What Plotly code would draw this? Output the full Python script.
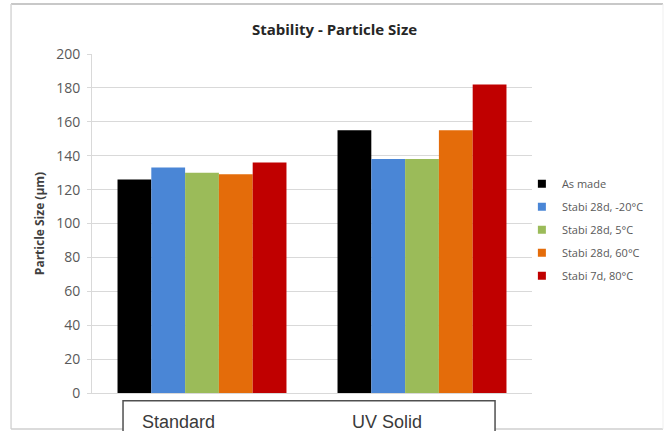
import plotly.graph_objects as go

# Particle size (µm) per sample type and storage condition
categories = ["Standard", "UV Solid"]
series_names = ["As made", "Stabi 28d, -20°C", "Stabi 28d, 5°C",
                "Stabi 28d, 60°C", "Stabi 7d, 80°C"]
as_made = [126, 155]
stabi_28d_minus20 = [133, 138]
stabi_28d_5 = [130, 138]
stabi_28d_60 = [129, 155]
stabi_7d_80 = [136, 182]
y_tick_values = [0, 20, 40, 60, 80, 100, 120, 140, 160, 180, 200]

series_values = [as_made, stabi_28d_minus20, stabi_28d_5, stabi_28d_60, stabi_7d_80]
series_colors = ["#000000", "#4a86d6", "#9bbb59", "#e46c0a", "#c00000"]

FONT = "Open Sans"
GRID = "#d9d9d9"

fig = go.Figure()

for name, vals, col in zip(series_names, series_values, series_colors):
    fig.add_trace(go.Bar(
        x=categories, y=vals, name=name, marker_color=col,
        marker_line_width=0, showlegend=False,
    ))

# legend entries with small square keys
for i, (name, col) in enumerate(zip(series_names, series_colors)):
    fig.add_trace(go.Scatter(
        x=[None], y=[None], mode="markers", name=name,
        legendgroup=f"g{i}",
        marker=dict(symbol="square", size=8, color=col),
    ))

# outer chart frame, one edge at a time
frame_left, frame_right, frame_bottom, frame_top = -0.184, 1.2977, -0.1062, 1.1475
frame_edges = [
    (frame_left, frame_top, frame_right, frame_top, "#c8c8c8", 2),
    (frame_left, frame_bottom, frame_left, frame_top, "#d6d6d6", 1.5),
    (frame_left, frame_bottom, frame_right, frame_bottom, "#cfcfcf", 1.5),
    (frame_right, frame_bottom, frame_right, frame_top, "#efefef", 1),
]
for x0, y0, x1, y1, col, w in frame_edges:
    fig.add_shape(type="line", xref="paper", yref="paper",
                  x0=x0, y0=y0, x1=x1, y1=y1,
                  line=dict(color=col, width=w), layer="below")

# category label table under the axis
fig.add_shape(type="rect", xref="paper", yref="paper",
              x0=0.0705, x1=0.916, y0=-0.0227, y1=-0.25,
              line=dict(color="#505050", width=1.5), fillcolor="white",
              layer="above")

label_shifts = [-62, -72]
for cat, shift in zip(categories, label_shifts):
    fig.add_annotation(x=cat, xref="x", y=-0.0855, yref="paper",
                       text=cat, showarrow=False, xanchor="left",
                       yanchor="middle", xshift=shift,
                       font=dict(family="Liberation Sans", size=18,
                                 color="#3a3a3a"))

fig.update_layout(
    width=669, height=431,
    margin=dict(l=92, r=137, t=54, b=38),
    paper_bgcolor="white", plot_bgcolor="white",
    barmode="group", bargap=0.232, bargroupgap=0,
    title=dict(text="<b>Stability - Particle Size</b>", x=0.5, xref="container",
               xanchor="center", y=0.93, yanchor="middle",
               font=dict(family=FONT, size=15, color="#262626")),
    font=dict(family=FONT, color="#595959"),
    legend=dict(x=0.977, xanchor="left", y=0.66, yanchor="top",
                tracegroupgap=4, bgcolor="rgba(0,0,0,0)",
                font=dict(family=FONT, size=11, color="#595959"),
                itemwidth=30),
    showlegend=True,
)

fig.update_xaxes(
    type="category", showticklabels=False, showgrid=False,
    showline=True, linecolor=GRID, linewidth=1, ticks="",
)
fig.update_yaxes(
    range=[0, 200], tickvals=y_tick_values, showgrid=True,
    gridcolor=GRID, gridwidth=1, showline=True, linecolor=GRID,
    ticks="outside", ticklen=4, tickcolor=GRID, zeroline=False,
    ticklabelstandoff=4,
    tickfont=dict(family=FONT, size=14, color="#595959"),
    title=dict(text="<b>Particle Size (µm)</b>", standoff=8,
               font=dict(family=FONT, size=12, color="#404040")),
)

fig.write_html("out.html")
